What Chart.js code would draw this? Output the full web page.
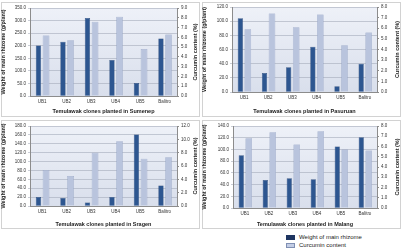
<!DOCTYPE html>
<html>
<head>
<meta charset="utf-8">
<script src="https://cdn.jsdelivr.net/npm/chart.js@4"></script>
<style>
  body { margin: 0; background: #fff; width: 403px; height: 250px; position: relative; overflow: hidden;
         font-family: "Liberation Sans", Arial, sans-serif; }
  .box { position: absolute; border: 1px solid #d2d2d2; box-sizing: border-box; }
  canvas { position: absolute; }
  .legend { position: absolute; left: 286px; top: 233px; font-size: 6px; color: #222; line-height: 8px; }
  .legend i { display: inline-block; width: 9px; height: 5px; margin-right: 4px; vertical-align: -1px; box-sizing: border-box; }
</style>
</head>
<body>
<div class="box" style="left:1px;top:2px;width:199px;height:115px"></div>
<div class="box" style="left:202px;top:2px;width:199px;height:115px"></div>
<div class="box" style="left:1px;top:120px;width:199px;height:109px"></div>
<div class="box" style="left:202px;top:120px;width:199px;height:109px"></div>

<canvas id="c1" width="201" height="117" style="left:0;top:0"></canvas>
<canvas id="c2" width="202" height="117" style="left:201px;top:0"></canvas>
<canvas id="c3" width="201" height="111" style="left:0;top:119px"></canvas>
<canvas id="c4" width="202" height="111" style="left:201px;top:119px"></canvas>

<div class="legend">
  <div><i style="background:#1e3561"></i>Weight of main rhizome</div>
  <div><i style="background:#c3cde5;border:1px solid #7f8fb3"></i>Curcumin content</div>
</div>

<script>
// clones planted at every site
const clones = ['UB1', 'UB2', 'UB3', 'UB4', 'UB5', 'Balitro'];

// weight of main rhizome (g/plant) and curcumin content (%) per site
const sumenepWeight = [201, 216, 310, 143, 52, 229];
const sumenepCurcumin = [6.2, 5.7, 7.6, 8.1, 4.8, 6.3];
const pasuruanWeight = [104, 27, 35, 64, 8, 40];
const pasuruanCurcumin = [5.9, 7.4, 6.1, 7.3, 4.4, 5.6];
const sragenWeight = [20, 18, 8, 20, 161, 46];
const sragenCurcumin = [5.4, 4.5, 8.0, 9.7, 7.1, 7.3];
const malangWeight = [90, 48, 51, 49, 105, 121];
const malangCurcumin = [6.8, 7.4, 6.2, 7.5, 5.7, 5.6];

// axis ranges
const weightMax = [350, 120, 180, 140];
const weightStep = [50, 20, 20, 20];
const curcuminMax = [9, 8, 12, 8];
const curcuminStep = [1, 1, 2, 1];

const sites = ['Sumenep', 'Pasuruan', 'Sragen', 'Malang'];
const weights = [sumenepWeight, pasuruanWeight, sragenWeight, malangWeight];
const curcumins = [sumenepCurcumin, pasuruanCurcumin, sragenCurcumin, malangCurcumin];

// plot area margins for each panel
const layouts = [
  { top: 8, left: 30, right: 24, bottom: 21 },
  { top: 7, left: 31, right: 26, bottom: 25 },
  { top: 7, left: 30, right: 24, bottom: 24 },
  { top: 7, left: 32, right: 26, bottom: 22 }
];

const tickFont = { size: 4.5, family: 'Liberation Sans' };
const titleFont = { size: 5.5, weight: 'bold', family: 'Liberation Sans' };

// plot area shading plus the right hand axis title (reads bottom to top)
const panelDeco = {
  id: 'panelDeco',
  beforeDraw(chart) {
    const a = chart.chartArea;
    const ctx = chart.ctx;
    const g = ctx.createLinearGradient(0, a.top, 0, a.bottom);
    g.addColorStop(0, '#eef1f8');
    g.addColorStop(1, '#d9dfec');
    ctx.save();
    ctx.fillStyle = g;
    ctx.fillRect(a.left, a.top, a.right - a.left, a.bottom - a.top);
    ctx.restore();
  },
  afterDraw(chart) {
    const a = chart.chartArea;
    const ctx = chart.ctx;
    ctx.save();
    ctx.translate(chart.width - 6, (a.top + a.bottom) / 2);
    ctx.rotate(-Math.PI / 2);
    ctx.font = 'bold 5.5px "Liberation Sans"';
    ctx.fillStyle = '#222';
    ctx.textAlign = 'center';
    ctx.textBaseline = 'middle';
    ctx.fillText('Curcumin content (%)', 0, 0);
    ctx.restore();
  }
};

sites.forEach((site, i) => {
  const lay = layouts[i];
  const ctx = document.getElementById('c' + (i + 1)).getContext('2d');

  new Chart(ctx, {
    type: 'bar',
    data: {
      labels: clones,
      datasets: [{
        label: 'Weight of main rhizome',
        data: weights[i],
        yAxisID: 'y',
        backgroundColor: '#2d5690',
        borderColor: '#203f6e',
        borderWidth: 0.5,
        categoryPercentage: 0.62,
        barPercentage: 0.7
      }, {
        label: 'Curcumin content',
        data: curcumins[i],
        yAxisID: 'y1',
        backgroundColor: '#b9c4dd',
        borderColor: '#8595ba',
        borderWidth: 0.5,
        categoryPercentage: 0.62,
        barPercentage: 0.88
      }]
    },
    options: {
      responsive: false,
      animation: false,
      layout: { padding: { top: lay.top, left: 0, right: 0, bottom: 0 } },
      plugins: { legend: { display: false }, tooltip: { enabled: false } },
      scales: {
        x: {
          grid: { display: false, drawTicks: false, tickLength: 0 },
          border: { color: '#8c8c8c' },
          ticks: { font: tickFont, color: '#333', padding: 3, maxRotation: 0 },
          title: { display: true, text: 'Temulawak clones planted in ' + site, font: titleFont, color: '#222', padding: { top: 0, bottom: 2 } },
          afterFit: s => { s.height = lay.bottom; }
        },
        y: {
          position: 'left',
          min: 0,
          max: weightMax[i],
          ticks: { stepSize: weightStep[i], font: tickFont, color: '#333', padding: 2, callback: v => v.toFixed(1) },
          grid: { color: '#a4abbb', lineWidth: 0.6, tickLength: 2 },
          border: { color: '#8c8c8c' },
          title: { display: true, text: 'Weight of main rhizome (g/plant)', font: titleFont, color: '#222', padding: 0 },
          afterFit: s => { s.width = lay.left; }
        },
        y1: {
          position: 'right',
          min: 0,
          max: curcuminMax[i],
          ticks: { stepSize: curcuminStep[i], font: tickFont, color: '#333', padding: 2, callback: v => v.toFixed(1) },
          grid: { drawOnChartArea: false, tickLength: 2, color: '#8c8c8c' },
          border: { color: '#8c8c8c' },
          afterFit: s => { s.width = lay.right; }
        }
      }
    },
    plugins: [panelDeco]
  });
});
</script>
</body>
</html>
